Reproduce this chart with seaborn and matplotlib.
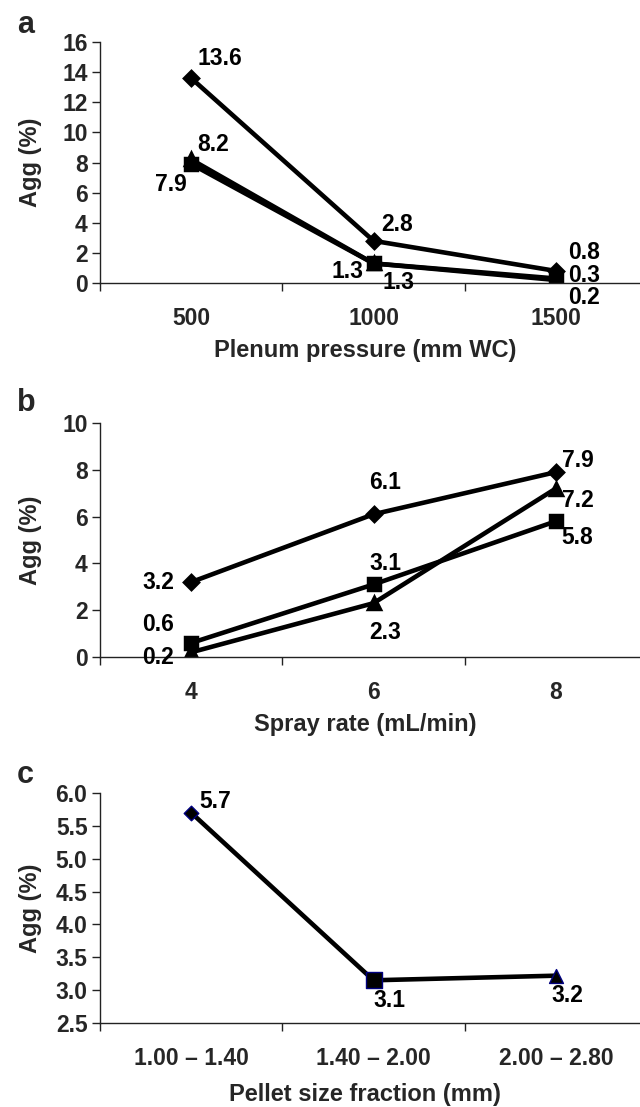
import matplotlib
matplotlib.use("Agg")
import matplotlib.pyplot as plt
import seaborn as sns
from matplotlib.ticker import FixedLocator

# panel a - plenum pressure
pressure = ["500", "1000", "1500"]
a_diamond = [13.6, 2.8, 0.8]
a_square = [7.9, 1.3, 0.2]
a_triangle = [8.2, 1.3, 0.3]

# panel b - spray rate
spray = ["4", "6", "8"]
b_diamond = [3.2, 6.1, 7.9]
b_square = [0.6, 3.1, 5.8]
b_triangle = [0.2, 2.3, 7.2]

# panel c - pellet size fraction
pellet = ["1.00 \u2013 1.40", "1.40 \u2013 2.00", "2.00 \u2013 2.80"]
c_values = [5.7, 3.15, 3.22]
c_markers = ["D", "s", "^"]
c_sizes = [55, 130, 100]

sns.set_theme(style="white")
plt.rcParams["font.family"] = ["Liberation Sans", "DejaVu Sans"]
plt.rcParams["font.weight"] = "bold"

FS = 16.5
fig = plt.figure(figsize=(6.4, 11.07), dpi=100)
W, H = 640, 1107


def make_ax(top_px, bottom_px):
    return fig.add_axes([100 / W, 1 - bottom_px / H, 547 / W, (bottom_px - top_px) / H])


def line(ax, cats, vals, marker, ms):
    sns.pointplot(x=cats, y=vals, ax=ax, color="black", markers=marker,
                  linestyles="-", errorbar=None, markersize=ms, linewidth=3.3)


def note(ax, i, v, dx, dy, ha="left"):
    ax.annotate(f"{v:.1f}", (i, v), xytext=(dx, dy),
                textcoords="offset pixels", ha=ha, va="center",
                fontsize=FS, fontweight="bold", color="black")


def style(ax, ymin, ymax, step, fmt, xlabel, xl_off, height):
    ax.set_ylim(ymin, ymax)
    ax.set_xlim(-0.5, 2.5)
    n = int(round((ymax - ymin) / step))
    ticks = [ymin + k * step for k in range(n + 1)]
    ax.set_yticks(ticks)
    ax.set_yticklabels([fmt.format(t) for t in ticks], fontsize=FS, fontweight="bold")
    ax.set_xticks([0, 1, 2])
    ax.xaxis.set_minor_locator(FixedLocator([-0.5, 0.5, 1.5, 2.5]))
    ax.tick_params(axis="x", which="major", length=0, pad=17, labelsize=FS)
    ax.tick_params(axis="x", which="minor", bottom=True, length=6, width=1, color="#222222", direction="out")
    ax.tick_params(axis="y", left=True, length=6, width=1, color="#222222", pad=3, direction="out")
    for lab in ax.get_xticklabels():
        lab.set_fontweight("bold")
    for s in ["top", "right"]:
        ax.spines[s].set_visible(False)
    for s in ["left", "bottom"]:
        ax.spines[s].set_color("#222222")
        ax.spines[s].set_linewidth(1)
    ax.grid(False)
    ax.set_xlabel(xlabel, fontsize=FS + 0.5, fontweight="bold")
    ax.xaxis.set_label_coords(0.485, -xl_off / height)
    ax.xaxis.label.set_va("center")
    ax.set_ylabel("Agg (%)", fontsize=FS + 0.5, fontweight="bold")
    ax.yaxis.set_label_coords(-70 / 547, 0.5)
    ax.yaxis.label.set_va("center")
    ax.set_facecolor("none")


# ---- panel a
ax1 = make_ax(42, 283)
line(ax1, pressure, a_diamond, "D", 7)
line(ax1, pressure, a_triangle, "^", 8)
line(ax1, pressure, a_square, "s", 8.5)
style(ax1, 0, 16, 2, "{:.0f}", "Plenum pressure (mm WC)", 67, 241)
note(ax1, 0, a_diamond[0], 6, 20)
note(ax1, 0, a_triangle[0], 6, 15)
note(ax1, 0, a_square[0], -4, -20, ha="right")
note(ax1, 1, a_diamond[1], 8, 16)
note(ax1, 1, a_square[1], -10, -8, ha="right")
note(ax1, 1, a_triangle[1], 9, -19)
note(ax1, 2, a_diamond[2], 12, 18)
note(ax1, 2, a_triangle[2], 12, 3)
note(ax1, 2, a_square[2], 12, -18)

# ---- panel b
ax2 = make_ax(423, 657)
line(ax2, spray, b_diamond, "D", 7)
line(ax2, spray, b_square, "s", 8.5)
line(ax2, spray, b_triangle, "^", 8)
style(ax2, 0, 10, 2, "{:.0f}", "Spray rate (mL/min)", 68, 234)
note(ax2, 0, b_diamond[0], -17, 0, ha="right")
note(ax2, 1, b_diamond[1], -4, 32)
note(ax2, 2, b_diamond[2], 6, 12)
note(ax2, 0, b_square[0], -17, 18, ha="right")
note(ax2, 1, b_square[1], -4, 21)
note(ax2, 2, b_square[2], 6, -16)
note(ax2, 0, b_triangle[0], -17, -5, ha="right")
note(ax2, 1, b_triangle[1], -4, -29)
note(ax2, 2, b_triangle[2], 6, -12)

# ---- panel c
ax3 = make_ax(793, 1023)
sns.pointplot(x=pellet, y=c_values, ax=ax3, color="black", markers="", linestyles="-",
              errorbar=None, linewidth=3.3)
for cat, v, m, s in zip(pellet, c_values, c_markers, c_sizes):
    sns.scatterplot(x=[cat], y=[v], ax=ax3, marker=m, color="black",
                    edgecolor="#000080", linewidth=1, s=s, zorder=5)
style(ax3, 2.5, 6.0, 0.5, "{:.1f}", "Pellet size fraction (mm)", 72, 230)
note(ax3, 0, c_values[0], 8, 11)
note(ax3, 1, c_values[1], 0, -20)
note(ax3, 2, c_values[2], -4, -20)

for txt, y in [("a", 25), ("b", 403), ("c", 775)]:
    fig.text(17 / W, 1 - y / H, txt, fontsize=22, fontweight="bold", ha="left", va="center")

fig.savefig("out.png", dpi=100)
